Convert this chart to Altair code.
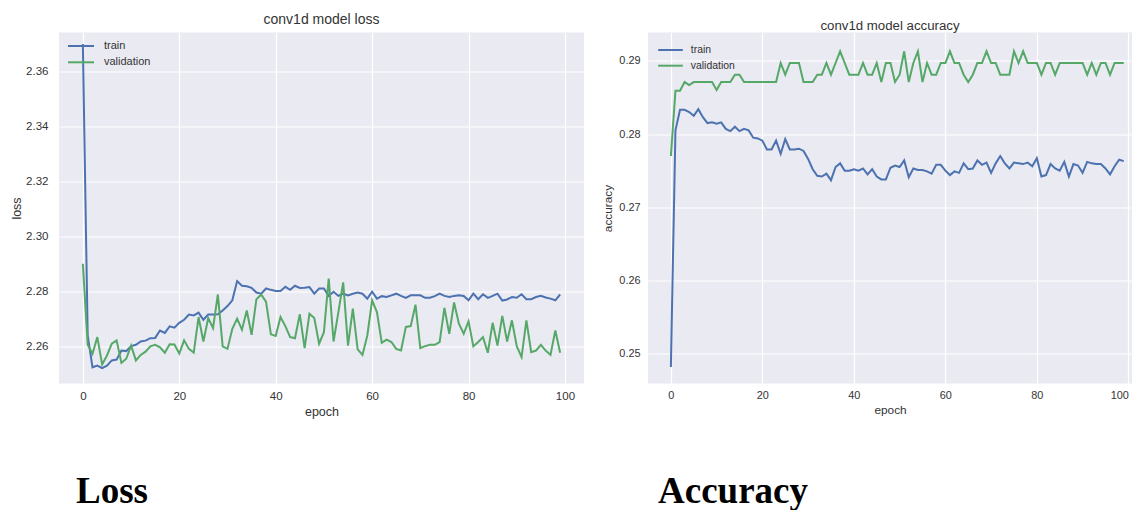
import altair as alt
import pandas as pd

# ---- training history of the conv1d model (100 epochs) ----
epochs = list(range(100))

loss_train = [
    2.3700, 2.2640, 2.2523, 2.2529, 2.2520, 2.2529, 2.2548, 2.2551, 2.2584, 2.2582,
    2.2600, 2.2605, 2.2617, 2.2620, 2.2629, 2.2630, 2.2657, 2.2648, 2.2672, 2.2667,
    2.2685, 2.2696, 2.2715, 2.2712, 2.2722, 2.2696, 2.2715, 2.2715, 2.2716, 2.2730,
    2.2746, 2.2767, 2.2837, 2.2820, 2.2818, 2.2812, 2.2795, 2.2791, 2.2810, 2.2805,
    2.2801, 2.2801, 2.2816, 2.2805, 2.2820, 2.2812, 2.2813, 2.2815, 2.2791, 2.2810,
    2.2810, 2.2783, 2.2798, 2.2783, 2.2791, 2.2785, 2.2791, 2.2795, 2.2791, 2.2773,
    2.2798, 2.2773, 2.2782, 2.2779, 2.2785, 2.2791, 2.2783, 2.2776, 2.2785, 2.2785,
    2.2785, 2.2776, 2.2776, 2.2782, 2.2791, 2.2783, 2.2779, 2.2783, 2.2785, 2.2783,
    2.2767, 2.2791, 2.2771, 2.2789, 2.2776, 2.2783, 2.2791, 2.2766, 2.2770, 2.2779,
    2.2776, 2.2789, 2.2771, 2.2771, 2.2779, 2.2783, 2.2777, 2.2773, 2.2767, 2.2788,
]
loss_val = [
    2.2900, 2.2605, 2.2572, 2.2633, 2.2533, 2.2566, 2.2609, 2.2621, 2.2539, 2.2554,
    2.2602, 2.2548, 2.2568, 2.2580, 2.2599, 2.2605, 2.2596, 2.2576, 2.2607, 2.2606,
    2.2573, 2.2621, 2.2590, 2.2576, 2.2706, 2.2617, 2.2702, 2.2666, 2.2788, 2.2599,
    2.2590, 2.2663, 2.2700, 2.2660, 2.2730, 2.2641, 2.2771, 2.2788, 2.2761, 2.2643,
    2.2637, 2.2706, 2.2673, 2.2633, 2.2629, 2.2716, 2.2593, 2.2718, 2.2702, 2.2609,
    2.2651, 2.2846, 2.2617, 2.2724, 2.2832, 2.2602, 2.2737, 2.2588, 2.2568, 2.2639,
    2.2767, 2.2724, 2.2612, 2.2624, 2.2615, 2.2590, 2.2584, 2.2670, 2.2673, 2.2751,
    2.2593, 2.2600, 2.2605, 2.2605, 2.2615, 2.2739, 2.2645, 2.2759, 2.2682, 2.2645,
    2.2690, 2.2599, 2.2615, 2.2633, 2.2576, 2.2685, 2.2602, 2.2710, 2.2617, 2.2694,
    2.2600, 2.2560, 2.2694, 2.2578, 2.2584, 2.2605, 2.2584, 2.2568, 2.2657, 2.2576,
]
acc_train = [
    0.2482, 0.2805, 0.2833, 0.2833, 0.2830, 0.2825, 0.2834, 0.2823, 0.2815, 0.2816,
    0.2814, 0.2816, 0.2807, 0.2804, 0.2810, 0.2804, 0.2807, 0.2805, 0.2795, 0.2794,
    0.2791, 0.2779, 0.2779, 0.2791, 0.2773, 0.2793, 0.2779, 0.2779, 0.2780, 0.2777,
    0.2766, 0.2752, 0.2743, 0.2742, 0.2746, 0.2737, 0.2755, 0.2760, 0.2750, 0.2750,
    0.2752, 0.2750, 0.2753, 0.2745, 0.2752, 0.2742, 0.2738, 0.2738, 0.2754, 0.2757,
    0.2755, 0.2764, 0.2741, 0.2753, 0.2751, 0.2751, 0.2749, 0.2746, 0.2758, 0.2758,
    0.2750, 0.2744, 0.2749, 0.2747, 0.2760, 0.2752, 0.2753, 0.2764, 0.2758, 0.2761,
    0.2747, 0.2760, 0.2770, 0.2760, 0.2753, 0.2761, 0.2760, 0.2759, 0.2761, 0.2756,
    0.2767, 0.2742, 0.2744, 0.2759, 0.2753, 0.2750, 0.2762, 0.2742, 0.2759, 0.2757,
    0.2747, 0.2762, 0.2760, 0.2759, 0.2759, 0.2753, 0.2745, 0.2756, 0.2765, 0.2763,
]
acc_val = [
    0.2770, 0.2859, 0.2859, 0.2871, 0.2867, 0.2871, 0.2871, 0.2871, 0.2871, 0.2871,
    0.2860, 0.2871, 0.2871, 0.2871, 0.2881, 0.2881, 0.2871, 0.2871, 0.2871, 0.2871,
    0.2871, 0.2871, 0.2871, 0.2871, 0.2897, 0.2881, 0.2897, 0.2897, 0.2897, 0.2871,
    0.2871, 0.2871, 0.2881, 0.2881, 0.2897, 0.2881, 0.2897, 0.2913, 0.2897, 0.2881,
    0.2881, 0.2881, 0.2897, 0.2881, 0.2881, 0.2897, 0.2871, 0.2897, 0.2897, 0.2871,
    0.2881, 0.2913, 0.2871, 0.2897, 0.2913, 0.2871, 0.2897, 0.2881, 0.2881, 0.2897,
    0.2897, 0.2913, 0.2897, 0.2897, 0.2881, 0.2871, 0.2881, 0.2897, 0.2897, 0.2913,
    0.2897, 0.2897, 0.2881, 0.2881, 0.2881, 0.2913, 0.2897, 0.2913, 0.2897, 0.2897,
    0.2897, 0.2881, 0.2897, 0.2897, 0.2881, 0.2897, 0.2897, 0.2897, 0.2897, 0.2897,
    0.2897, 0.2881, 0.2897, 0.2881, 0.2897, 0.2897, 0.2881, 0.2897, 0.2897, 0.2897,
]

series_names = ["train", "validation"]
series_colors = ["#4C72B0", "#55A868"]
epoch_ticks = [0, 20, 40, 60, 80, 100]
loss_ticks = [2.26, 2.28, 2.30, 2.32, 2.34, 2.36]
acc_ticks = [0.25, 0.26, 0.27, 0.28, 0.29]

SANS = "Liberation Sans"
SERIF = "Liberation Serif"
TEXT = "#333333"
BG = "#EAEAF2"

# the last epoch label sits at the right edge of the accuracy panel
EDGE_LABEL_ALIGN = {
    "condition": {"test": "datum.value === 100", "value": "right"},
    "value": "center",
}


def history_frame(train, val, field):
    return pd.DataFrame({
        "epoch": epochs + epochs,
        "series": ["train"] * len(train) + ["validation"] * len(val),
        field: train + val,
    })


def panel(df, field, title, ylabel, yticks, ydomain, xdomain, width, height,
          caption, cap_x, cap_y, scale, xlab_pad, xtitle_pad, ylab_pad,
          ytitle_pad, legend_x, legend_y, legend_row_pad, legend_lab_off,
          title_offset, x_label_align="center"):
    tick_fs = 11.5 * scale
    lab_fs = 12.5 * scale
    axis_common = dict(
        grid=True, gridColor="white", gridWidth=1.2, domain=False, ticks=False,
        labelFont=SANS, labelFontSize=tick_fs, labelColor=TEXT,
        titleFont=SANS, titleFontSize=lab_fs, titleColor=TEXT,
        titleFontWeight="normal",
    )
    sym = 13 * scale
    lines = alt.Chart(df).mark_line(strokeWidth=2).encode(
        x=alt.X(
            "epoch:Q",
            scale=alt.Scale(domain=xdomain, nice=False, zero=False),
            axis=alt.Axis(values=epoch_ticks, title="epoch",
                          labelPadding=xlab_pad, titlePadding=xtitle_pad,
                          labelAlign=x_label_align, **axis_common),
        ),
        y=alt.Y(
            f"{field}:Q",
            scale=alt.Scale(domain=ydomain, nice=False, zero=False),
            axis=alt.Axis(values=yticks, format=".2f", title=ylabel,
                          labelPadding=ylab_pad, titlePadding=ytitle_pad,
                          **axis_common),
        ),
        color=alt.Color(
            "series:N",
            scale=alt.Scale(domain=series_names, range=series_colors),
            legend=alt.Legend(
                title=None, orient="none", legendX=legend_x, legendY=legend_y,
                symbolType="M-2,0H2", symbolSize=sym * sym,
                symbolStrokeWidth=2, labelFont=SANS,
                labelFontSize=11 * scale, labelColor=TEXT,
                labelOffset=legend_lab_off, rowPadding=legend_row_pad,
                padding=0,
            ),
        ),
    )
    cap = alt.Chart(pd.DataFrame({"caption": [caption]})).mark_text(
        font=SERIF, fontSize=37, fontWeight="bold", color="black",
        align="left", baseline="alphabetic",
    ).encode(text="caption:N", x=alt.value(cap_x), y=alt.value(cap_y))
    return alt.layer(lines, cap).properties(
        width=width, height=height,
        title=alt.TitleParams(title, font=SANS, fontSize=14 * scale,
                              fontWeight="normal", color=TEXT,
                              anchor="middle", offset=title_offset),
    )


loss_panel = panel(
    history_frame(loss_train, loss_val, "loss"), "loss", "conv1d model loss",
    "loss", loss_ticks, [2.2464, 2.3742], [-4.95, 103.95], 525, 351,
    "Loss", 17, 470, 1.0,
    xlab_pad=7, xtitle_pad=3, ylab_pad=11, ytitle_pad=2,
    legend_x=14.5, legend_y=6, legend_row_pad=3.3, legend_lab_off=15.5,
    title_offset=6,
)
acc_panel = panel(
    history_frame(acc_train, acc_val, "accuracy"), "accuracy",
    "conv1d model accuracy", "accuracy", acc_ticks, [0.245945, 0.293863],
    [-5.0, 100.8], 484, 351,
    "Accuracy", 10, 470, 0.947,
    xlab_pad=6, xtitle_pad=4, ylab_pad=8, ytitle_pad=5,
    legend_x=15, legend_y=10, legend_row_pad=2.7, legend_lab_off=12.8,
    title_offset=-0.5, x_label_align=EDGE_LABEL_ALIGN,
)

chart = (
    alt.hconcat(loss_panel, acc_panel, spacing=18)
    .resolve_scale(color="independent")
    .resolve_legend(color="independent")
    .properties(padding={"left": 10, "top": 12.5, "right": 0, "bottom": 0},
                background="white")
    .configure_view(fill=BG, stroke=None)
)

chart.save("out.html", embed_options={"renderer": "svg", "actions": False})
